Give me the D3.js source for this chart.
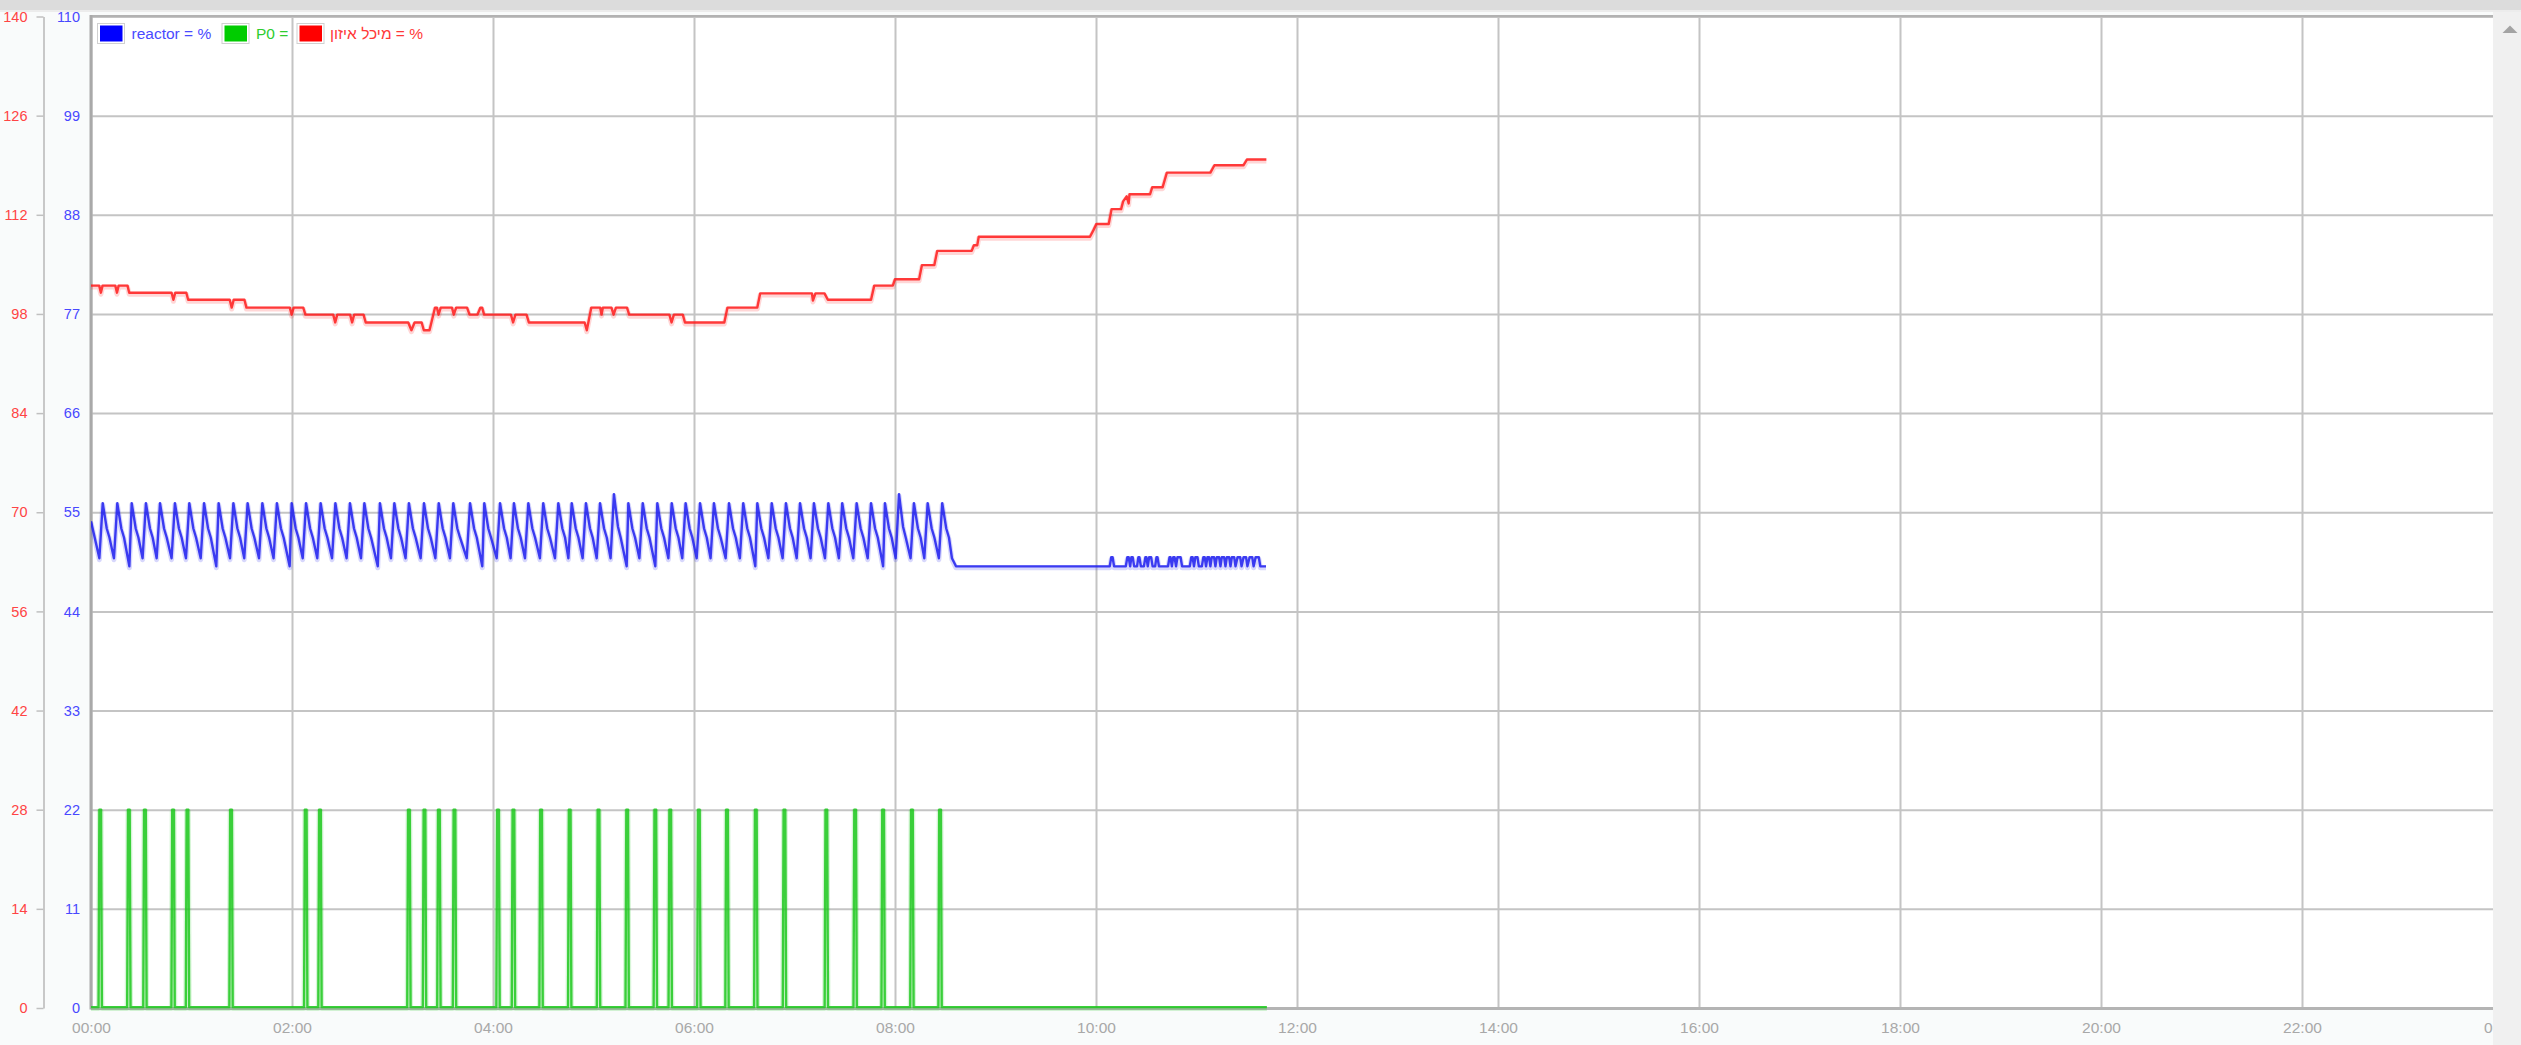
<!DOCTYPE html>
<html><head><meta charset="utf-8">
<script src="https://cdn.jsdelivr.net/npm/d3@7"></script>
<style>html,body{margin:0;padding:0;background:#f9fbfb;overflow:hidden}svg{display:block}</style>
</head><body><svg id="c" width="2521" height="1045"></svg>
<script>
// ---------- data (minutes since 00:00, value) ----------
const timeTickMinutes = [0,120,240,360,480,600,720,840,960,1080,1200,1320,1440];
const timeTickLabels = ["00:00","02:00","04:00","06:00","08:00","10:00","12:00","14:00","16:00","18:00","20:00","22:00","00:00"];
const reactorAxisTicks = [0,11,22,33,44,55,66,77,88,99,110];
const tankAxisTicks = [0,14,28,42,56,70,84,98,112,126,140];
const seriesNames = ["reactor = %","P0 =","מיכל איזון = %"];
const seriesColors = ["#0000ff","#00cc00","#ff0000"];

const reactorPoints = [
[0,54.0],[5.0,49.9],
[7.0,56],[9.4,53.2],[11.0,52.2],[13.7,49.9],
[15.7,56],[18.1,53.2],[19.7,52.2],[22.9,49.0],
[24.3,56],[26.7,53.2],[28.3,52.2],[30.8,49.9],
[32.8,56],[35.2,53.2],[36.8,52.2],[39.2,49.9],
[41.2,56],[43.6,53.2],[45.2,52.2],[48.1,49.9],
[50.1,56],[52.5,53.2],[54.1,52.2],[56.7,49.9],
[58.7,56],[61.1,53.2],[62.7,52.2],[65.5,49.9],
[67.5,56],[69.9,53.2],[71.5,52.2],[74.8,49.0],
[76.2,56],[78.6,53.2],[80.2,52.2],[83.0,49.9],
[85.0,56],[87.4,53.2],[89.0,52.2],[91.5,49.9],
[93.5,56],[95.9,53.2],[97.5,52.2],[100.3,49.9],
[102.3,56],[104.7,53.2],[106.3,52.2],[109.0,49.9],
[111.0,56],[113.4,53.2],[115.0,52.2],[118.6,49.0],
[119.8,56],[122.2,53.2],[123.8,52.2],[126.4,49.9],
[128.4,56],[130.8,53.2],[132.4,52.2],[135.1,49.9],
[137.1,56],[139.5,53.2],[141.1,52.2],[143.9,49.9],
[145.9,56],[148.3,53.2],[149.9,52.2],[152.6,49.9],
[154.6,56],[157.0,53.2],[158.6,52.2],[161.2,49.9],
[163.2,56],[165.6,53.2],[167.2,52.2],[171.2,49.0],
[172.5,56],[174.9,53.2],[176.5,52.2],[179.1,49.9],
[181.1,56],[183.5,53.2],[185.1,52.2],[187.8,49.9],
[189.8,56],[192.2,53.2],[193.8,52.2],[196.8,49.9],
[198.8,56],[201.2,53.2],[202.8,52.2],[205.6,49.9],
[207.6,56],[210.0,53.2],[211.6,52.2],[214.3,49.9],
[216.3,56],[218.7,53.2],[220.3,52.2],[224.3,49.9],
[226.3,56],[228.7,53.2],[230.3,52.2],[233.6,49.0],
[234.8,56],[237.2,53.2],[238.8,52.2],[242.2,49.9],
[244.2,56],[246.6,53.2],[248.2,52.2],[250.5,49.9],
[252.5,56],[254.9,53.2],[256.5,52.2],[259.1,49.9],
[261.1,56],[263.5,53.2],[265.1,52.2],[268.0,49.9],
[270.0,56],[272.4,53.2],[274.0,52.2],[277.0,49.9],
[279.0,56],[281.4,53.2],[283.0,52.2],[285.0,49.9],
[287.0,56],[289.4,53.2],[291.0,52.2],[293.5,49.9],
[295.5,56],[297.9,53.2],[299.5,52.2],[301.9,49.9],
[303.9,56],[306.3,53.2],[307.9,52.2],[310.2,49.9],
[312.2,57],[314.6,53.4],[316.2,52.2],[319.8,49.0],
[320.8,56],[323.2,53.2],[324.8,52.2],[327.4,49.9],
[329.4,56],[331.8,53.2],[333.4,52.2],[336.9,49.0],
[338.1,56],[340.5,53.2],[342.1,52.2],[344.7,49.9],
[346.7,56],[349.1,53.2],[350.7,52.2],[353.0,49.9],
[355.0,56],[357.4,53.2],[359.0,52.2],[361.6,49.9],
[363.6,56],[366.0,53.2],[367.6,52.2],[369.9,49.9],
[371.9,56],[374.3,53.2],[375.9,52.2],[378.9,49.9],
[380.9,56],[383.3,53.2],[384.9,52.2],[387.4,49.9],
[389.4,56],[391.8,53.2],[393.4,52.2],[396.6,49.0],
[397.8,56],[400.2,53.2],[401.8,52.2],[404.4,49.9],
[406.4,56],[408.8,53.2],[410.4,52.2],[412.9,49.9],
[414.9,56],[417.3,53.2],[418.9,52.2],[421.3,49.9],
[423.3,56],[425.7,53.2],[427.3,52.2],[429.6,49.9],
[431.6,56],[434.0,53.2],[435.6,52.2],[438.2,49.9],
[440.2,56],[442.6,53.2],[444.2,52.2],[446.5,49.9],
[448.5,56],[450.9,53.2],[452.5,52.2],[455.1,49.9],
[457.1,56],[459.5,53.2],[461.1,52.2],[463.7,49.9],
[465.7,56],[468.1,53.2],[469.7,52.2],[472.9,49.0],
[474.0,56],[476.4,53.2],[478.0,52.2],[480.4,49.9],
[482.4,57],[484.8,53.4],[486.4,52.2],[489.3,49.9],
[491.3,56],[493.7,53.2],[495.3,52.2],[497.5,49.9],
[499.5,56],[501.9,53.2],[503.5,52.2],[506.2,49.9],
[508.2,56],[510.6,53.2],[512.2,52.2],[514.0,49.9],[516.4,49.0],
[608.2,49.0],[609.1,50],[609.9,50],[610.8,49.0],
[617.8,49.0],[618.7,50],[619.5,50],[620.4,49.0],
[621.1,50],[621.9,50],[622.8,49.0],
[624.5,49.0],[625.3,50],[625.9,50],[626.8,49.0],
[628.6,49.0],[629.5,50],[630.1,50],[630.9,49.0],
[631.7,50],[632.9,50],[633.8,49.0],
[635.3,49.0],[636.1,50],[636.7,50],[637.6,49.0],
[643.0,49.0],[643.9,50],[644.5,50],[645.3,49.0],
[646.1,50],[646.9,50],[647.8,49.0],
[648.6,50],[650.5,50],[651.4,49.0],
[656.0,49.0],[656.9,50],[657.7,50],[658.5,49.0],
[659.3,50],[660.6,50],[661.4,49.0],
[663.2,49.0],[664.1,50],[664.9,50],[665.7,49.0],
[666.5,50],[667.5,50],[668.3,49.0],
[669.1,50],[670.5,50],[671.3,49.0],
[672.1,50],[673.5,50],[674.3,49.0],
[675.1,50],[676.5,50],[677.3,49.0],
[678.1,50],[679.5,50],[680.3,49.0],
[681.1,50],[682.5,50],[683.3,49.0],
[684.5,50],[686.1,50],[686.9,49.0],
[688.1,50],[689.6,50],[690.4,49.0],
[691.7,50],[693.3,50],[694.1,49.0],
[695.3,50],[697.2,50],[698.1,49.0],
[701.5,49.0]
];

const p0Points = [
[0,0.1],
[4.5,0.1],[5.0,22],[6.0,22],[6.5,0.1],
[21.6,0.1],[22.1,22],[23.1,22],[23.6,0.1],
[31.2,0.1],[31.7,22],[32.7,22],[33.2,0.1],
[48.0,0.1],[48.5,22],[49.5,22],[50.0,0.1],
[56.6,0.1],[57.1,22],[58.1,22],[58.6,0.1],
[82.6,0.1],[83.1,22],[84.1,22],[84.6,0.1],
[127.2,0.1],[127.7,22],[128.7,22],[129.2,0.1],
[135.7,0.1],[136.2,22],[137.2,22],[137.7,0.1],
[188.8,0.1],[189.3,22],[190.3,22],[190.8,0.1],
[198.1,0.1],[198.6,22],[199.6,22],[200.1,0.1],
[206.7,0.1],[207.2,22],[208.2,22],[208.7,0.1],
[216.0,0.1],[216.5,22],[217.5,22],[218.0,0.1],
[242.0,0.1],[242.5,22],[243.5,22],[244.0,0.1],
[251.2,0.1],[251.7,22],[252.7,22],[253.2,0.1],
[267.7,0.1],[268.2,22],[269.2,22],[269.7,0.1],
[284.8,0.1],[285.3,22],[286.3,22],[286.8,0.1],
[302.0,0.1],[302.5,22],[303.5,22],[304.0,0.1],
[319.1,0.1],[319.6,22],[320.6,22],[321.1,0.1],
[335.9,0.1],[336.4,22],[337.4,22],[337.9,0.1],
[344.8,0.1],[345.3,22],[346.3,22],[346.8,0.1],
[361.9,0.1],[362.4,22],[363.4,22],[363.9,0.1],
[378.7,0.1],[379.2,22],[380.2,22],[380.7,0.1],
[395.9,0.1],[396.4,22],[397.4,22],[397.9,0.1],
[413.0,0.1],[413.5,22],[414.5,22],[415.0,0.1],
[438.0,0.1],[438.5,22],[439.5,22],[440.0,0.1],
[455.2,0.1],[455.7,22],[456.7,22],[457.2,0.1],
[471.9,0.1],[472.4,22],[473.4,22],[473.9,0.1],
[489.1,0.1],[489.6,22],[490.6,22],[491.1,0.1],
[505.9,0.1],[506.4,22],[507.4,22],[507.9,0.1],
[702.0,0.1]
];

const tankPoints = [
[0,102.0],[4.9,102.0],[5.9,101.0],[6.9,102.0],[14.5,102.0],[15.5,101.0],[16.5,102.0],[21.8,102.0],[22.8,101.0],
[48.1,101.0],[49.2,100.0],[50.3,101.0],[56.9,101.0],[58.0,100.0],
[82.8,100.0],[84.0,98.9],[85.2,100.0],[91.6,100.0],[92.8,98.9],
[118.7,98.9],[119.8,97.9],[121.0,98.9],[126.7,98.9],[128.0,97.9],
[144.6,97.9],[145.8,96.8],[147.0,97.9],[154.7,97.9],[155.9,96.8],[157.1,97.9],[162.7,97.9],[164.0,96.8],
[189.4,96.8],[191.3,95.7],[193.2,96.8],[197.4,96.8],[198.7,95.7],[202.1,95.7],[205.4,98.9],
[206.5,98.9],[207.5,97.9],[208.8,98.9],[215.5,98.9],[216.6,97.9],[218.0,98.9],[224.5,98.9],[226.0,97.9],
[230.7,97.9],[232.5,98.9],[233.5,98.9],[234.7,97.9],
[250.7,97.9],[252.0,96.8],[253.4,97.9],[260.0,97.9],[261.4,96.8],
[294.7,96.8],[296.0,95.7],[298.7,98.9],[304.0,98.9],[304.8,97.9],[305.6,98.9],[310.7,98.9],[312.0,97.9],[313.4,98.9],[320.0,98.9],[321.3,97.9],
[345.3,97.9],[346.6,96.8],[348.0,97.9],[353.3,97.9],[354.6,96.8],
[378.1,96.8],[380.0,98.9],[397.8,98.9],[399.5,100.9],
[430.4,100.9],[431.0,99.9],[432.5,100.9],[437.9,100.9],[439.9,100.0],
[465.7,100.0],[467.6,102.0],[478.7,102.0],[480.0,102.9],[494.4,102.9],[496.1,104.9],[503.5,104.9],[505.2,106.9],
[525.8,106.9],[527.1,107.7],[529.1,107.7],[530.0,108.9],
[596.4,108.9],[598.4,109.8],[600.2,110.7],[607.6,110.7],[609.3,112.8],[615.0,112.8],[616.2,113.9],[618.3,114.6],[619.5,113.6],[620.0,114.9],
[632.3,114.9],[633.6,115.9],[639.8,115.9],[642.3,117.95],[668.3,117.95],[670.7,119.0],[688.1,119.0],[690.1,119.8],[701.7,119.8]
];

// ---------- layout ----------
const W = 2521, H = 1045;
const plotL = 91, plotT = 16.5, plotB = 1008, plotR = 2503, visR = 2493;
const svg = d3.select("#c");
const FONT = "'Liberation Sans', Arial, sans-serif";

const x = d3.scaleLinear().domain([0,1440]).range([plotL, plotR]);
const yReactor = d3.scaleLinear().domain([0,110]).range([plotB, plotT]);
const yTank = d3.scaleLinear().domain([0,140]).range([plotB, plotT]);

// page background pieces
svg.append("rect").attr("x",0).attr("y",0).attr("width",W).attr("height",H).attr("fill","#f9fbfb");
svg.append("rect").attr("x",0).attr("y",0).attr("width",W).attr("height",10).attr("fill","#dcdcdc");
svg.append("rect").attr("x",0).attr("y",10).attr("width",W).attr("height",2).attr("fill","#ececec");
svg.append("rect").attr("x",plotL).attr("y",plotT).attr("width",plotR-plotL).attr("height",plotB-plotT).attr("fill","#ffffff");

// grid
const gy = svg.append("g").attr("transform",`translate(${plotL},0)`)
  .call(d3.axisLeft(yReactor).tickValues(reactorAxisTicks).tickSize(-(plotR-plotL)).tickFormat(""));
gy.select(".domain").remove();
gy.selectAll(".tick line").attr("stroke","#c4c4c4").attr("stroke-width",2);
const gx = svg.append("g").attr("transform",`translate(0,${plotB})`)
  .call(d3.axisBottom(x).tickValues(timeTickMinutes).tickSize(-(plotB-plotT)).tickFormat(""));
gx.select(".domain").remove();
gx.selectAll(".tick line").attr("stroke","#c4c4c4").attr("stroke-width",2);

// borders
svg.append("line").attr("x1",plotL).attr("x2",plotR).attr("y1",plotT-0.5).attr("y2",plotT-0.5).attr("stroke","#b2b2b2").attr("stroke-width",2);
svg.append("line").attr("x1",plotL).attr("x2",plotL).attr("y1",plotT-1.5).attr("y2",plotB+1.5).attr("stroke","#a9a9a9").attr("stroke-width",3);
svg.append("line").attr("x1",plotL).attr("x2",plotR).attr("y1",plotB+0.5).attr("y2",plotB+0.5).attr("stroke","#b4b4b4").attr("stroke-width",3);

// tank (red) axis, outer left
const ar = svg.append("g").attr("transform","translate(43.5,0)")
  .call(d3.axisLeft(yTank).tickValues(tankAxisTicks).tickSize(7).tickSizeOuter(0).tickPadding(9));
ar.select(".domain").attr("stroke","#c8c8c8").attr("stroke-width",2);
ar.selectAll(".tick line").attr("stroke","#c0c0c0").attr("stroke-width",1.5);
ar.selectAll(".tick text").attr("fill","#ff4444").style("font-family",FONT).style("font-size","14.5px");

// reactor (blue) axis
const ab = svg.append("g").attr("transform",`translate(${plotL},0)`)
  .call(d3.axisLeft(yReactor).tickValues(reactorAxisTicks).tickSize(0).tickPadding(11));
ab.select(".domain").remove();
ab.selectAll(".tick text").attr("fill","#4848ff").style("font-family",FONT).style("font-size","14.5px");

// time axis labels (the last one is partly hidden by the scrollbar, as in the original)
const at = svg.append("g").attr("transform",`translate(0,${plotB})`)
  .call(d3.axisBottom(x).tickValues(timeTickMinutes).tickSize(0).tickPadding(14).tickFormat((d,i)=>timeTickLabels[i]));
at.select(".domain").remove();
at.selectAll(".tick text").attr("fill","#a8a8a8").style("font-family",FONT).style("font-size","15.5px");

// series
svg.append("clipPath").attr("id","clip").append("rect").attr("x",plotL).attr("y",0).attr("width",visR-plotL).attr("height",H);
const lines = svg.append("g").attr("clip-path","url(#clip)");
function drawSeries(pts, yScale, color){
  const gen = d3.line().x(d=>x(d[0])).y(d=>yScale(d[1]));
  lines.append("path").attr("d",gen(pts)).attr("fill","none").attr("stroke",color).attr("stroke-opacity",0.18)
    .attr("stroke-width",5).attr("stroke-linejoin","round").attr("transform","translate(0,1.5)");
  lines.append("path").attr("d",gen(pts)).attr("fill","none").attr("stroke",color).attr("stroke-opacity",0.85)
    .attr("stroke-width",2.4).attr("stroke-linejoin","round");
}
drawSeries(tankPoints, yTank, "#ff1c1c");
drawSeries(reactorPoints, yReactor, "#1f1fee");
drawSeries(p0Points, yReactor, "#1ec81e");

// legend
const legX = [97, 221.5, 296.5];
const legTextX = [131.5, 256, 330];
const legTextColor = ["#4a4aff","#2fcc2f","#ff3838"];
seriesNames.forEach((name,i)=>{
  svg.append("rect").attr("x",legX[i]+0.5).attr("y",23.5).attr("width",27).attr("height",20).attr("fill","#fff").attr("stroke","#d0d0d0");
  svg.append("rect").attr("x",legX[i]+3).attr("y",25.5).attr("width",22.5).attr("height",16).attr("fill",seriesColors[i]);
  svg.append("text").attr("x",legTextX[i]).attr("y",38.5).attr("fill",legTextColor[i])
    .style("font-family",FONT).style("font-size","15.5px").attr("direction","ltr").text(name);
});

// scrollbar strip
svg.append("rect").attr("x",visR).attr("y",12).attr("width",W-visR).attr("height",H-12).attr("fill","#f0f0f0");
svg.append("path").attr("d",`M${2502.5},33 L${2517.5},33 L${2510},25.5 Z`).attr("fill","#a3a3a3");
</script>
</body></html>
